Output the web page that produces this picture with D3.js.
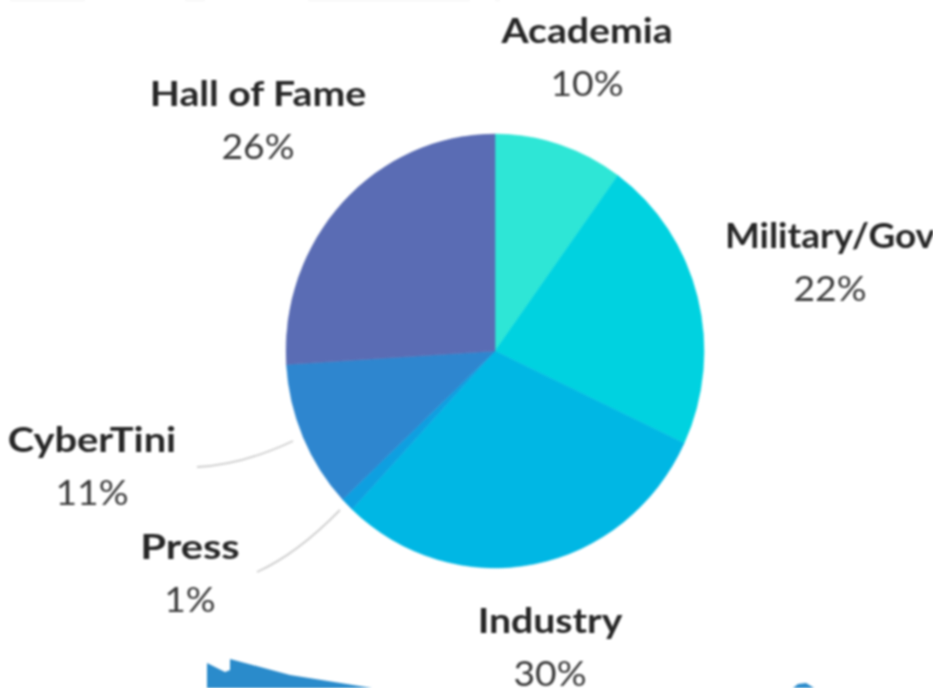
<!DOCTYPE html>
<html><head><meta charset="utf-8">
<style>html,body{margin:0;background:#fff;overflow:hidden}svg{display:block;filter:blur(1px)}</style>
<script src="https://cdn.jsdelivr.net/npm/d3@7"></script></head><body>
<svg id="c" width="933" height="688"></svg>
<script>
const categories=["Academia","Military/Gov","Industry","Press","CyberTini","Hall of Fame"];
const shares=[10,22,30,1,11,26];
const colors=["#2ee6d6","#00d2e0","#00b7e4","#0e9fe0","#2e86cf","#5a6cb4"];
const labelX=[587,830,550,190,92,258];
const labelY=[43,248,633,559,452,106];
const labelStretch=[1.135,1.07,1.135,1.21,1.155,1.135];
const leaderA=[[293,441],[340,510]];
const leaderB=[[197,467],[257,572]];
const fragLeft=[[207,688],[207,663],[225,672],[230,670],[230,659],[290,675],[372,688]];
const fragRight=[[793,688],[798,684],[806,683],[814,688]];
const topBars=[[10,85],[185,205],[308,470],[495,500]];

const svg=d3.select("#c");
const pie=d3.pie().sort(null)(shares);
const arc=d3.arc().innerRadius(0).outerRadius(209);
const g=svg.append("g").attr("transform","translate(495,351) scale(1,1.038)");
g.selectAll("path").data(pie).join("path").attr("d",arc).attr("fill",(d,i)=>colors[i]).attr("stroke",(d,i)=>colors[i]).attr("stroke-width",.5);

svg.selectAll(".lead").data(leaderA).join("path").attr("fill","none").attr("stroke","#cfcfcf").attr("stroke-width",1.8)
 .attr("d",(d,i)=>{const b=leaderB[i];const q=i==0?[b[0]+45,b[1]-2]:[b[0]+40,b[1]-18];return `M${d}Q${q} ${b}`;});

const line=d3.line();
svg.append("path").attr("d",line(fragLeft)+"Z").attr("fill","#2a8bcb");
svg.append("path").attr("d",line(fragRight)+"Z").attr("fill","#2a8bcb");
svg.selectAll(".top").data(topBars).join("rect").attr("x",d=>d[0]).attr("y",-1).attr("width",d=>d[1]-d[0]).attr("height",2).attr("fill","#f0f0f0");

const font="Lato, 'Open Sans', sans-serif";
categories.forEach((c,i)=>{
 svg.append("text").attr("transform",`translate(${labelX[i]},${labelY[i]}) scale(${labelStretch[i]},1)`).attr("text-anchor","middle")
  .attr("font-family",font).attr("font-weight",700).attr("font-size",34.5).attr("fill","#262626").text(c);
 svg.append("text").attr("transform",`translate(${labelX[i]},${labelY[i]+52.5}) scale(1.08,1)`).attr("text-anchor","middle")
  .attr("font-family",font).attr("font-size",34.5).attr("fill","#3a3a3a").text(shares[i]+"%");
});
</script></body></html>
